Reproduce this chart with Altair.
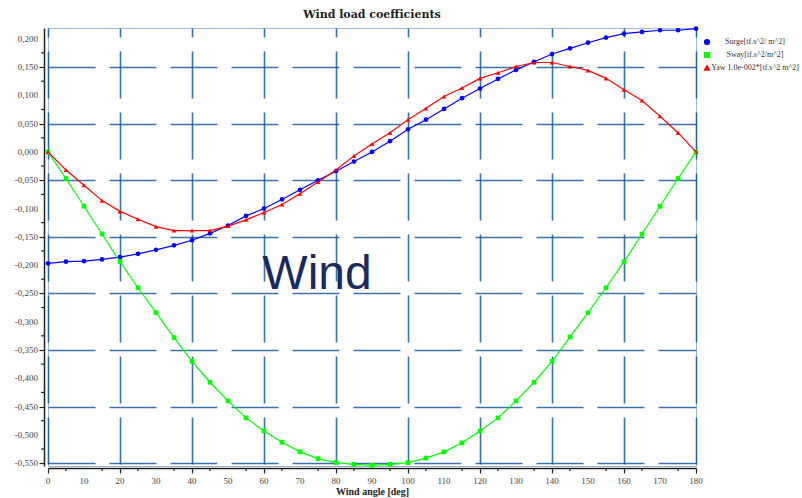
import altair as alt
import pandas as pd

angles = list(range(0, 181, 5))
surge = [-0.197, -0.194, -0.193, -0.190, -0.186, -0.180, -0.173, -0.165, -0.156, -0.144,
         -0.130, -0.113, -0.100, -0.084, -0.067, -0.050, -0.034, -0.017, 0.000, 0.019,
         0.040, 0.057, 0.076, 0.095, 0.112, 0.129, 0.145, 0.159, 0.173, 0.183,
         0.193, 0.202, 0.209, 0.212, 0.215, 0.215, 0.218]
sway = [0.000, -0.047, -0.096, -0.145, -0.194, -0.240, -0.284, -0.328, -0.370, -0.407,
        -0.440, -0.470, -0.493, -0.513, -0.530, -0.542, -0.549, -0.552, -0.554, -0.552,
        -0.549, -0.541, -0.530, -0.514, -0.493, -0.470, -0.440, -0.407, -0.370, -0.327,
        -0.284, -0.240, -0.194, -0.145, -0.096, -0.047, 0.000]
yaw = [0.000, -0.032, -0.059, -0.086, -0.105, -0.119, -0.132, -0.139, -0.139, -0.139,
       -0.131, -0.120, -0.107, -0.093, -0.074, -0.053, -0.032, -0.007, 0.014, 0.034,
       0.057, 0.077, 0.098, 0.113, 0.130, 0.140, 0.151, 0.158, 0.158, 0.151,
       0.144, 0.130, 0.110, 0.091, 0.063, 0.034, 0.000]

series_names = ["Surge[tf.s^2/ m^2]", "Sway[tf.s^2/m^2]", "Yaw 1.0e-002*[tf.s^2 m^2]"]
series_colors = ["#0000ff", "#00ff00", "#ff0000"]
series_shapes = ["circle", "square", "triangle-up"]

x_major = list(range(0, 181, 10))
x_minor = list(range(5, 180, 10))
y_major = [round(-0.55 + 0.05 * i, 3) for i in range(16)]
y_minor = [round(-0.525 + 0.05 * i, 3) for i in range(15)]

rows = []
for name, vals in zip(series_names, [surge, sway, yaw]):
    for a, v in zip(angles, vals):
        rows.append({"angle": a, "value": v, "series": name})
df = pd.DataFrame(rows)

serif = "Liberation Serif"
grid_col = "#0a4f96"
lab_col = "#444"

x_scale = alt.Scale(domain=[0, 180], nice=False)
y_scale = alt.Scale(domain=[-0.555, 0.219], nice=False, zero=False)

x_enc = alt.X("angle:Q", scale=x_scale,
              axis=alt.Axis(values=x_major, labels=False,
                            title="Wind angle [deg]",
                            titleFont=serif, titleFontSize=10, titleFontWeight="bold",
                            titleColor="#222", titleY=26, titleBaseline="alphabetic",
                            tickSize=5, tickColor="#222", tickWidth=1.2,
                            domainColor="#222", domainWidth=1.5, offset=2,
                            grid=True, gridColor=grid_col, gridWidth=1.6, gridOpacity=0.8,
                            gridDash=[47, 14], gridDashOffset=38))

y_enc = alt.Y("value:Q", scale=y_scale,
              axis=alt.Axis(values=y_major, title=None, labels=False,
                            tickSize=5, tickColor="#222", tickWidth=1.2,
                            domainColor="#222", domainWidth=1.5, offset=4,
                            grid=True, gridColor=grid_col, gridWidth=1.6, gridOpacity=0.8,
                            gridDash=[47, 14]))

color_scale = alt.Scale(domain=series_names, range=series_colors)
shape_scale = alt.Scale(domain=series_names, range=series_shapes)

lines = alt.Chart(df).mark_line(strokeWidth=1.2, clip=False).encode(
    x=x_enc, y=y_enc,
    color=alt.Color("series:N", scale=color_scale, title=None,
                    legend=alt.Legend(orient="none", legendX=655, legendY=10,
                                      symbolType="circle")),
)

points = alt.Chart(df).mark_point(filled=True, size=22, opacity=1, clip=False).encode(
    x="angle:Q", y="value:Q",
    color=alt.Color("series:N", scale=color_scale, title=None),
    shape=alt.Shape("series:N", scale=shape_scale, title=None),
)

xminor_ticks = alt.Chart(pd.DataFrame({"v": x_minor})).mark_rule(
    color="#222", strokeWidth=1.2, clip=False
).encode(x=alt.X("v:Q", scale=x_scale), y=alt.value(440), y2=alt.value(443))

yminor_ticks = alt.Chart(pd.DataFrame({"v": y_minor})).mark_rule(
    color="#222", strokeWidth=1.2, clip=False
).encode(y=alt.Y("v:Q", scale=y_scale), x=alt.value(-4), x2=alt.value(-7))

x_labels = alt.Chart(pd.DataFrame({"v": x_major})).transform_calculate(
    lab="format(datum.v, 'd')"
).mark_text(font=serif, fontSize=9, color=lab_col, align="center", baseline="middle",
            clip=False).encode(
    x=alt.X("v:Q", scale=x_scale), y=alt.value(453), text="lab:N")

y_labels = alt.Chart(pd.DataFrame({"v": y_major})).transform_calculate(
    lab="replace(replace(format(datum.v, '.3f'), '.', ','), '\u2212', '-')"
).mark_text(font=serif, fontSize=9, color=lab_col, align="right", baseline="middle",
            clip=False).encode(
    y=alt.Y("v:Q", scale=y_scale), x=alt.value(-10), text="lab:N")

wind = alt.Chart(pd.DataFrame({"t": ["Wind"]})).mark_text(
    fontSize=48, font="Liberation Sans", color="#1b2a5c", align="center", baseline="middle"
).encode(x=alt.value(269), y=alt.value(247), text="t:N")

chart = alt.layer(points, lines, xminor_ticks, yminor_ticks, x_labels, y_labels, wind).properties(
    width=648, height=438,
    title=alt.TitleParams("Wind load coefficients", font="DejaVu Serif", fontSize=11,
                          fontWeight="bold", color="#222", offset=6, anchor="middle"),
    autosize=alt.AutoSizeParams(type="none"),
    padding={"left": 48, "top": 28, "right": 106, "bottom": 32},
).configure_view(
    stroke="#9dbbdc", strokeWidth=1
).configure_legend(
    labelFont=serif, labelFontSize=8, labelColor="#333",
    symbolSize=22, rowPadding=1, labelOffset=44, labelAlign="center",
    labelLimit=200, padding=0
)

chart.save("out.html", embed_options={"renderer": "svg", "actions": False})
